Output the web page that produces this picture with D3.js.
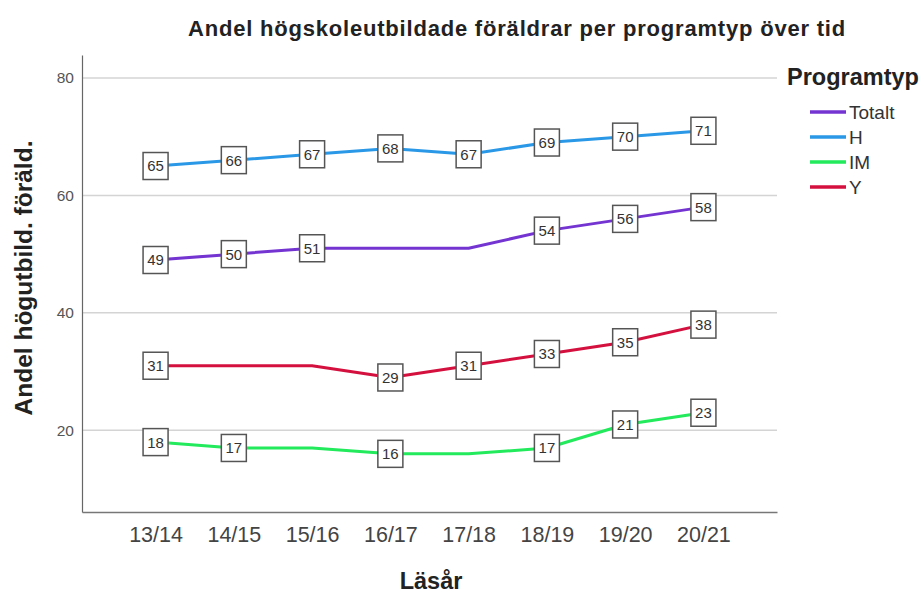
<!DOCTYPE html>
<html>
<head>
<meta charset="utf-8">
<script src="https://cdn.jsdelivr.net/npm/d3@7"></script>
<style>
  body { margin: 0; background: #fff; }
  svg text { font-family: "Liberation Sans", Arial, sans-serif; }
</style>
</head>
<body>
<div id="chart"></div>
<script>
// data
const years = ["13/14", "14/15", "15/16", "16/17", "17/18", "18/19", "19/20", "20/21"];
const seriesNames = ["Totalt", "H", "IM", "Y"];
const totalt = [49, 50, 51, 51, 51, 54, 56, 58];
const hValues = [65, 66, 67, 68, 67, 69, 70, 71];
const imValues = [18, 17, 17, 16, 16, 17, 21, 23];
const yValues = [31, 31, 31, 29, 31, 33, 35, 38];
// which points carry a value box (false = no box)
const totaltShown = [true, true, true, false, false, true, true, true];
const hShown = [true, true, true, true, true, true, true, true];
const imShown = [true, true, false, true, false, true, true, true];
const yShown = [true, false, false, true, true, true, true, true];
const yTicks = [20, 40, 60, 80];

const colors = {
  Totalt: "#7434d2",
  H: "#2a98e6",
  IM: "#22ea5c",
  Y: "#d4103f"
};

const series = [
  { name: "Totalt", values: totalt, shown: totaltShown },
  { name: "H", values: hValues, shown: hShown },
  { name: "IM", values: imValues, shown: imShown },
  { name: "Y", values: yValues, shown: yShown }
];

const width = 924, height = 594;
const margin = { top: 55, right: 147, bottom: 82, left: 82 };
const innerW = width - margin.left - margin.right;
const innerH = height - margin.top - margin.bottom;

const svg = d3.select("#chart").append("svg")
  .attr("width", width)
  .attr("height", height);

const g = svg.append("g")
  .attr("transform", `translate(${margin.left},${margin.top})`);

const x = d3.scalePoint().domain(years).range([0, innerW]).padding(0.94);
const y = d3.scaleLinear().domain([6.1, 83.9]).range([innerH, 0]);

// gridlines
g.append("g")
  .selectAll("line")
  .data(yTicks)
  .join("line")
  .attr("x1", 0)
  .attr("x2", innerW)
  .attr("y1", d => y(d))
  .attr("y2", d => y(d))
  .attr("stroke", "#d4d4d4")
  .attr("stroke-width", 1.5);

// y axis
const yAxis = g.append("g")
  .call(d3.axisLeft(y).tickValues(yTicks).tickSize(0).tickPadding(8));
yAxis.select(".domain").attr("stroke", "#666").attr("stroke-width", 1.2);
yAxis.selectAll("text")
  .attr("fill", "#555")
  .style("font-size", "15.5px");

// x axis
const xAxis = g.append("g")
  .attr("transform", `translate(0,${innerH})`)
  .call(d3.axisBottom(x).tickSize(0).tickPadding(15));
xAxis.select(".domain").attr("stroke", "#777").attr("stroke-width", 1.5);
xAxis.selectAll("text")
  .attr("fill", "#444")
  .style("font-size", "21.5px");

// lines
const line = d3.line()
  .x((d, i) => x(years[i]))
  .y(d => y(d));

g.append("g")
  .selectAll("path")
  .data(series)
  .join("path")
  .attr("d", d => line(d.values))
  .attr("fill", "none")
  .attr("stroke", d => colors[d.name])
  .attr("stroke-width", 3)
  .attr("stroke-linejoin", "round");

// value boxes
const labelData = [];
series.forEach(s => {
  s.values.forEach((v, i) => {
    if (s.shown[i]) labelData.push({ year: years[i], value: v });
  });
});

const boxes = g.append("g")
  .selectAll("g")
  .data(labelData)
  .join("g")
  .attr("transform", d => `translate(${x(d.year)},${y(d.value)})`);

boxes.append("rect")
  .attr("x", -12.5)
  .attr("y", -13.5)
  .attr("width", 25)
  .attr("height", 27)
  .attr("fill", "#fff")
  .attr("stroke", "#555")
  .attr("stroke-width", 1.5);

boxes.append("text")
  .attr("text-anchor", "middle")
  .attr("dy", "0.36em")
  .attr("fill", "#333")
  .style("font-size", "15px")
  .text(d => d.value);

// title
svg.append("text")
  .attr("x", 517)
  .attr("y", 36)
  .attr("text-anchor", "middle")
  .attr("font-weight", "bold")
  .attr("fill", "#222")
  .attr("letter-spacing", "0.8px")
  .style("font-size", "22px")
  .text("Andel högskoleutbildade föräldrar per programtyp över tid");

// axis titles
svg.append("text")
  .attr("x", 431)
  .attr("y", 589)
  .attr("text-anchor", "middle")
  .attr("font-weight", "bold")
  .attr("fill", "#222")
  .style("font-size", "23.5px")
  .text("Läsår");

svg.append("text")
  .attr("transform", "translate(32,278) rotate(-90)")
  .attr("text-anchor", "middle")
  .attr("font-weight", "bold")
  .attr("fill", "#222")
  .style("font-size", "24.5px")
  .text("Andel högutbild. föräld.");

// legend
const legend = svg.append("g").attr("transform", "translate(787,0)");
legend.append("text")
  .attr("x", 0)
  .attr("y", 85)
  .attr("font-weight", "bold")
  .attr("fill", "#222")
  .style("font-size", "23.5px")
  .text("Programtyp");

const items = legend.selectAll("g.item")
  .data(seriesNames)
  .join("g")
  .attr("class", "item")
  .attr("transform", (d, i) => `translate(0,${112 + i * 25})`);

items.append("line")
  .attr("x1", 23)
  .attr("x2", 59)
  .attr("stroke", d => colors[d])
  .attr("stroke-width", 3.5);

items.append("text")
  .attr("x", 62)
  .attr("dy", "0.36em")
  .attr("fill", "#333")
  .style("font-size", "19px")
  .text(d => d);
</script>
</body>
</html>
